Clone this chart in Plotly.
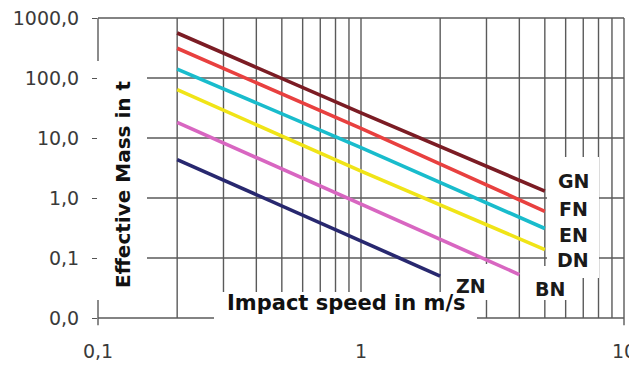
import math
import plotly.graph_objects as go

# ---------------- data ----------------
series_names = ["GN", "FN", "EN", "DN", "BN", "ZN"]
series_colors = ["#7b1c24", "#e8403f", "#19bccc", "#f0e417", "#d866c1", "#28286f"]

speed_GN = [0.2, 1, 5]
mass_GN = [562, 26.3, 1.30]
speed_FN = [0.2, 1, 5]
mass_FN = [313, 14.5, 0.60]
speed_EN = [0.2, 1, 5]
mass_EN = [141, 6.9, 0.31]
speed_DN = [0.2, 1, 5]
mass_DN = [64, 2.8, 0.138]
speed_BN = [0.2, 1, 4]
mass_BN = [18.2, 0.80, 0.053]
speed_ZN = [0.2, 1, 2]
mass_ZN = [4.36, 0.19, 0.050]

x_tick_vals = [0.1, 1, 10]
x_tick_text = ["0,1", "1", "10"]
y_tick_vals = [0.01, 0.1, 1, 10, 100, 1000]
y_tick_text = ["0,0", "0,1", "1,0", "10,0", "100,0", "1000,0"]

grid_x = [0.1, 0.2, 0.3, 0.4, 0.5, 0.6, 0.7, 0.8, 0.9, 1, 2, 3, 4, 5, 6, 7, 8, 9, 10]
grid_y = [0.01, 0.1, 1, 10, 100, 1000]

# label positions (speed, mass) for line names
label_pos = {
    "GN": (6.45, 1.92),
    "FN": (6.45, 0.645),
    "EN": (6.45, 0.242),
    "DN": (6.4, 0.091),
    "BN": (5.23, 0.030),
    "ZN": (2.61, 0.0348),
}

# ---------------- figure ----------------
# the page body has an 8px margin; compensate so the plot lands where the reference has it
OFF = 8
W, H = 637, 370
ML, MR, MT, MB = 98 - OFF, 13 + OFF, 18 - OFF, 52 + OFF
PW, PH = W - ML - MR, H - MT - MB

def px2x(px):
    return (px - OFF - ML) / PW

def py2y(py):
    return (H - MB - (py - OFF)) / PH

def vx(v):
    return (math.log10(v) + 1) / 2

def vy(v):
    return (math.log10(v) + 2) / 5

speeds = [speed_GN, speed_FN, speed_EN, speed_DN, speed_BN, speed_ZN]
masses = [mass_GN, mass_FN, mass_EN, mass_DN, mass_BN, mass_ZN]

fig = go.Figure()
for name, col, sx, my in zip(series_names, series_colors, speeds, masses):
    fig.add_trace(go.Scatter(x=sx, y=my, mode="lines", name=name,
                             line=dict(color=col, width=3.6), showlegend=False,
                             hoverinfo="skip"))

GRID_COL = "#5a5a5a"
shapes = []
for v in grid_x:
    ext = -0.024 if v in (0.1, 10) else 0
    shapes.append(dict(type="line", xref="paper", yref="paper", x0=vx(v), x1=vx(v),
                       y0=ext, y1=1, line=dict(color=GRID_COL, width=1.4), layer="below"))
for v in grid_y:
    shapes.append(dict(type="line", xref="paper", yref="paper", x0=0, x1=1,
                       y0=vy(v), y1=vy(v), line=dict(color=GRID_COL, width=1.4), layer="below"))

def mask(x0, x1, y0, y1):
    shapes.append(dict(type="rect", xref="paper", yref="paper",
                       x0=px2x(x0), x1=px2x(x1), y0=py2y(y1), y1=py2y(y0),
                       fillcolor="white", line=dict(width=0), layer="below"))

mask(96, 147, 61, 300)      # y title area
mask(214, 477, 292, 323)    # x title area
mask(452, 500, 264, 300)    # ZN label area
mask(547, 599, 157, 278)    # GN..DN label column
mask(530, 578, 266, 300)    # BN label area

annotations = []
for name in series_names:
    sx, my = label_pos[name]
    annotations.append(dict(x=vx(sx), y=vy(my), xref="paper", yref="paper",
                            xanchor="center", yanchor="middle",
                            text="<b>%s</b>" % name, showarrow=False,
                            font=dict(family="DejaVu Sans", size=19, color="#1a1a1a")))

annotations.append(dict(x=px2x(346), y=py2y(303), xref="paper", yref="paper",
                        xanchor="center", yanchor="middle",
                        text="<b>Impact speed in m/s</b>", showarrow=False,
                        font=dict(family="DejaVu Sans", size=21, color="#111111")))
annotations.append(dict(x=px2x(123), y=py2y(185), xref="paper", yref="paper",
                        xanchor="center", yanchor="middle",
                        text="<b>Effective Mass in t</b>", showarrow=False, textangle=-90,
                        font=dict(family="DejaVu Sans", size=20, color="#111111")))

fig.update_layout(
    width=W, height=H,
    margin=dict(l=ML, r=MR, t=MT, b=MB),
    paper_bgcolor="white", plot_bgcolor="white",
    shapes=shapes, annotations=annotations,
    xaxis=dict(type="log", range=[-1, 1], showgrid=False, zeroline=False, showline=False,
               tickvals=x_tick_vals, ticktext=x_tick_text, ticks="", automargin=False,
               ticklabelstandoff=20, ticklabeloverflow="allow",
               tickfont=dict(family="DejaVu Sans", size=19, color="#3a3a3a")),
    yaxis=dict(type="log", range=[-2, 3], showgrid=False, zeroline=False, showline=False,
               tickvals=y_tick_vals, ticktext=y_tick_text, ticks="outside", ticklen=5,
               automargin=False, ticklabeloverflow="allow",
               tickcolor="#555555", tickwidth=1.3, ticklabelstandoff=9,
               tickfont=dict(family="DejaVu Sans", size=19, color="#3a3a3a")),
)

fig.write_html("out.html")
